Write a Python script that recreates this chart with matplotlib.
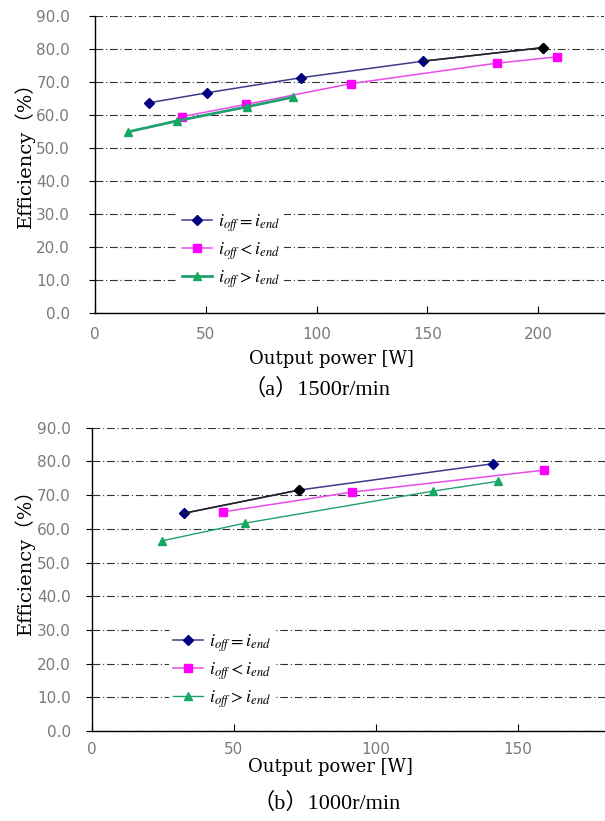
import numpy as np
import matplotlib
matplotlib.use("Agg")
import matplotlib.pyplot as plt

plt.rcParams['mathtext.fontset'] = 'stix'

# ---------------- data ----------------
# (a) 1500 r/min
top_x_eq = [24.4, 50.4, 93.1, 148.1, 202.1]
top_y_eq = [63.8, 66.8, 71.4, 76.4, 80.5]
top_x_lt = [39.3, 68.2, 115.6, 181.4, 208.4]
top_y_lt = [59.6, 63.3, 69.6, 75.8, 77.7]
top_x_gt = [15.0, 37.0, 68.8, 89.3]
top_y_gt = [55.0, 58.3, 62.6, 65.5]

# (b) 1000 r/min
bot_x_eq = [32.5, 73.1, 141.3]
bot_y_eq = [64.6, 71.5, 79.3]
bot_x_lt = [46.2, 91.8, 159.3]
bot_y_lt = [65.0, 70.9, 77.4]
bot_x_gt = [24.7, 54.2, 120.4, 143.1]
bot_y_gt = [56.4, 61.7, 71.2, 74.1]

labels = [r'$i_{off}=i_{end}$', r'$i_{off}<i_{end}$', r'$i_{off}>i_{end}$']
y_ticks = np.arange(0, 91, 10)

navy = '#000080'
navy_line = '#3c3c8a'
magenta = '#ff00ff'
magenta_line = '#e84ce8'
green = '#14a860'
green_line = '#20a070'
tick_grey = '#7a7a7a'

W, H = 605, 821
fig = plt.figure(figsize=(W / 100, H / 100), dpi=100)


def px_axes(left, top, right, bottom):
    return fig.add_axes([left / W, 1 - bottom / H, (right - left) / W, (bottom - top) / H])


def style_axes(ax, xmax, xticks, ypad, xpad):
    ax.set_xlim(0, xmax)
    ax.set_ylim(0, 90)
    ax.set_yticks(y_ticks)
    ax.set_yticklabels([f"{v:.1f}" for v in y_ticks])
    ax.set_xticks(xticks)
    ax.set_xticklabels([str(v) for v in xticks])
    for s in ['top', 'right']:
        ax.spines[s].set_visible(False)
    for s in ['left', 'bottom']:
        ax.spines[s].set_color('black')
        ax.spines[s].set_linewidth(1.0)
    ax.tick_params(axis='y', direction='out', length=4, width=0.8,
                   pad=ypad, labelsize=11, labelcolor=tick_grey)
    ax.tick_params(axis='x', direction='in', length=5, width=0.8,
                   pad=xpad, labelsize=11, labelcolor=tick_grey)
    ax.yaxis.grid(True, linestyle=(0, (7, 2.5, 1, 2.5)), color='#333333',
                  linewidth=0.8)
    ax.set_axisbelow(True)


def draw_series(ax, xe, ye, xl, yl, xg, yg, green_lw, hi_seg, hi_pt):
    ax.plot(xe, ye, color=navy_line, lw=1.1, marker='D', ms=4.6,
            mfc=navy, mec=navy, label=labels[0], zorder=4)
    # darker highlighted segment / point, as in the reference
    ax.plot(xe[hi_seg:hi_seg + 2], ye[hi_seg:hi_seg + 2], color='#222222',
            lw=1.1, zorder=4)
    ax.plot([xe[hi_pt]], [ye[hi_pt]], 'D', ms=4.6, color='black', zorder=5)
    ax.plot(xl, yl, color=magenta_line, lw=1.1, marker='s', ms=6.2,
            mfc=magenta, mec=magenta, label=labels[1], zorder=3)
    ax.plot(xg, yg, color=green_line, lw=green_lw, marker='^', ms=6.2,
            mfc=green, mec=green, label=labels[2], zorder=3)


def add_legend(ax, cx, cy):
    leg = ax.legend(loc='center', bbox_to_anchor=(cx / W, 1 - cy / H),
                    bbox_transform=fig.transFigure, frameon=True,
                    fontsize=13, handlelength=1.65, handletextpad=0.35,
                    labelspacing=0.35, borderpad=0.2, borderaxespad=0)
    leg.get_frame().set_facecolor('white')
    leg.get_frame().set_edgecolor('none')
    leg.get_frame().set_alpha(1.0)
    leg.set_zorder(6)


label_font = ['DejaVu Serif', 'Noto Sans CJK SC']
cap_font = ['Liberation Serif', 'Noto Sans CJK SC']

# ---------------- (a) 1500r/min ----------------
ax1 = px_axes(95, 16.3, 95 + 230 * 2.215, 313.3)
style_axes(ax1, 230, [0, 50, 100, 150, 200], ypad=14, xpad=10)
draw_series(ax1, top_x_eq, top_y_eq, top_x_lt, top_y_lt, top_x_gt, top_y_gt,
            green_lw=2.0, hi_seg=3, hi_pt=4)
add_legend(ax1, 231, 251)

fig.text(25 / W, 1 - 150 / H, 'Efficiency（%）', rotation=90, ha='center',
         va='center', fontsize=14, family=label_font)
fig.text(331 / W, 1 - 359 / H, 'Output power [W]', ha='center', va='center',
         fontsize=13, family=label_font)
fig.text(317 / W, 1 - 389 / H, '（a）1500r/min', ha='center', va='center',
         fontsize=16, family=cap_font)

# ---------------- (b) 1000r/min ----------------
ax2 = px_axes(91.5, 427.7, 91.5 + 181 * 2.84, 731)
style_axes(ax2, 181, [0, 50, 100, 150], ypad=11, xpad=8)
draw_series(ax2, bot_x_eq, bot_y_eq, bot_x_lt, bot_y_lt, bot_x_gt, bot_y_gt,
            green_lw=1.0, hi_seg=0, hi_pt=1)
add_legend(ax2, 222, 671)

fig.text(25 / W, 1 - 557 / H, 'Efficiency（%）', rotation=90, ha='center',
         va='center', fontsize=14, family=label_font)
fig.text(330 / W, 1 - 767 / H, 'Output power [W]', ha='center', va='center',
         fontsize=13, family=label_font)
fig.text(327 / W, 1 - 803 / H, '（b）1000r/min', ha='center', va='center',
         fontsize=16, family=cap_font)

fig.savefig('out.png', dpi=100, facecolor='white')
